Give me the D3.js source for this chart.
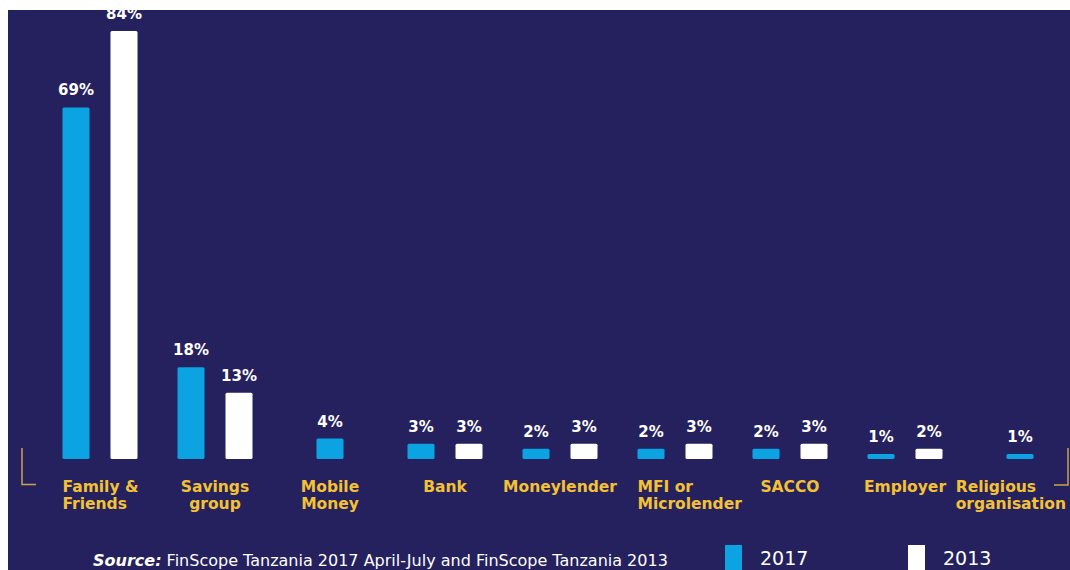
<!DOCTYPE html>
<html>
<head>
<meta charset="utf-8">
<script src="https://cdn.jsdelivr.net/npm/d3@7"></script>
<style>
  html, body { margin: 0; padding: 0; background: #ffffff; }
  svg { display: block; }
</style>
</head>
<body>
<svg id="chart" width="1070" height="570"></svg>
<script>
// Sources of borrowing, 2017 vs 2013 (FinScope Tanzania)
const categories = ["Family & Friends", "Savings group", "Mobile Money", "Bank", "Moneylender",
                    "MFI or Microlender", "SACCO", "Employer", "Religious organisation"];
const labelLines = [["Family &", "Friends"], ["Savings", "group"], ["Mobile", "Money"], ["Bank"],
                    ["Moneylender"], ["MFI or", "Microlender"], ["SACCO"], ["Employer"],
                    ["Religious", "organisation"]];
const values2017 = [69, 18, 4, 3, 2, 2, 2, 1, 1];
const values2013 = [84, 13, null, 3, 3, 3, 3, 2, null];
const seriesNames = ["2017", "2013"];
const sourceLead = "Source:";
const sourceText = " FinScope Tanzania 2017 April-July and FinScope Tanzania 2013";

const navy = "#25215e", blue = "#0ba3e2", white = "#ffffff", gold = "#f3c234", rule = "#c9a24c";
const font = "'DejaVu Sans', sans-serif";

const svg = d3.select("#chart");

// panel
svg.append("rect").attr("x", 8).attr("y", 10).attr("width", 1062).attr("height", 560).attr("fill", navy);

const x = d3.scaleBand().domain(categories).range([42.5, 1077.5]).paddingInner(0).paddingOuter(0);
const y = d3.scaleLinear().domain([0, 84]).range([459, 31]);
const barW = 27, offset = 24;

const rows = categories.map((c, i) => ({ c, i, v17: values2017[i], v13: values2013[i] }));
const bars = [];
rows.forEach(r => {
  const cx = x(r.c) + x.bandwidth() / 2;
  const pair = r.v13 != null;
  bars.push({ c: r.c, v: r.v17, cx: pair ? cx - offset : cx, color: blue });
  if (pair) bars.push({ c: r.c, v: r.v13, cx: cx + offset, color: white });
});

const g = svg.append("g");
g.selectAll("rect.bar").data(bars).join("rect")
  .attr("class", "bar")
  .attr("x", d => d.cx - barW / 2)
  .attr("width", barW)
  .attr("y", d => y(d.v))
  .attr("height", d => y(0) - y(d.v))
  .attr("rx", 1.5)
  .attr("fill", d => d.color);

g.selectAll("text.val").data(bars).join("text")
  .attr("class", "val")
  .attr("x", d => d.cx)
  .attr("y", d => y(d.v) - 12)
  .attr("text-anchor", "middle")
  .attr("fill", white)
  .attr("font-family", font)
  .attr("font-weight", "bold")
  .attr("font-size", 15)
  .text(d => d.v + "%");

// category labels
const leftAligned = new Set(["Family & Friends", "MFI or Microlender", "Religious organisation"]);
rows.forEach(r => {
  const cx = x(r.c) + x.bandwidth() / 2;
  const pair = r.v13 != null;
  const blueLeft = (pair ? cx - offset : cx) - barW / 2;
  const left = leftAligned.has(r.c);
  const t = g.append("text")
    .attr("y", 492)
    .attr("text-anchor", left ? "start" : "middle")
    .attr("fill", gold)
    .attr("font-family", font)
    .attr("font-weight", "bold")
    .attr("font-size", 15.5);
  const spans = labelLines[r.i].map((line, k) =>
    t.append("tspan").attr("dy", k === 0 ? 0 : 16.5).text(line));
  let lx = left ? blueLeft : cx;
  if (left) {
    // keep the label inside the panel's right edge
    const w = d3.max(spans, s => s.node().getComputedTextLength());
    lx = Math.min(lx, 1066 - w);
  }
  t.attr("x", lx);
  spans.forEach(s => s.attr("x", lx));
});

// bracket rules at both ends of the category row
svg.append("path").attr("d", "M22,448 V484.5 H36").attr("fill", "none").attr("stroke", rule).attr("stroke-width", 1.5);
svg.append("path").attr("d", "M1054,485 H1068 V448").attr("fill", "none").attr("stroke", rule).attr("stroke-width", 1.5);

// source line
const src = svg.append("text").attr("x", 93).attr("y", 566)
  .attr("fill", white).attr("font-family", font).attr("font-size", 16);
src.append("tspan").attr("font-weight", "bold").attr("font-style", "italic").text(sourceLead);
src.append("tspan").text(sourceText);

// legend
const legendX = [725, 908];
seriesNames.forEach((s, i) => {
  svg.append("rect").attr("x", legendX[i]).attr("y", 545).attr("width", 17).attr("height", 30)
    .attr("fill", i === 0 ? blue : white);
  svg.append("text").attr("x", legendX[i] + 35).attr("y", 565)
    .attr("fill", white).attr("font-family", font).attr("font-size", 19).text(s);
});
</script>
</body>
</html>
